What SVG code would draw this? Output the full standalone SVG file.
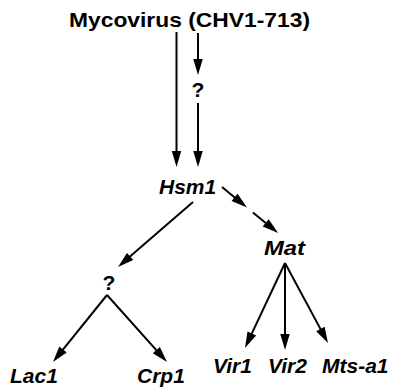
<svg xmlns="http://www.w3.org/2000/svg" width="393" height="389" viewBox="0 0 393 389">
  <style>
    .lbl { font-family: "Liberation Sans", Arial, Helvetica, sans-serif; font-weight: bold; font-size: 21px; fill: #000; }
    .gene { font-style: italic; }
    .edge { stroke: #000; stroke-width: 2; fill: none; marker-end: url(#head); }
  </style>
  <defs>
    <marker id="head" markerUnits="userSpaceOnUse" markerWidth="17" markerHeight="10" refX="4" refY="4.75" orient="auto" overflow="visible">
      <path d="M0,0 L16,4.75 L0,9.5 Z" fill="#000"/>
    </marker>
  </defs>
  <rect width="393" height="389" fill="#fff"/>

  <g id="connectors">
    <!-- virus to Hsm1: direct and via unknown step -->
    <line class="edge" x1="176.5" y1="32" x2="176.5" y2="155"/>
    <line class="edge" x1="198" y1="33" x2="198" y2="63"/>
    <line class="edge" x1="198" y1="103" x2="198" y2="155"/>
    <!-- Hsm1 to Mat, broken line -->
    <line class="edge" x1="222" y1="187" x2="237.7" y2="199.9"/>
    <line class="edge" x1="252.9" y1="212.4" x2="268.8" y2="225.4"/>
    <!-- Hsm1 to unknown -->
    <line class="edge" x1="193" y1="202" x2="127.1" y2="259.1"/>
    <!-- unknown to Lac1 / Crp1 -->
    <line class="edge" x1="107" y1="295" x2="60.5" y2="352.7"/>
    <line class="edge" x1="107" y1="295" x2="159" y2="353.1"/>
    <!-- Mat to targets -->
    <line class="edge" x1="285" y1="263" x2="250.1" y2="337.1"/>
    <line class="edge" x1="285" y1="263" x2="285" y2="338"/>
    <line class="edge" x1="285" y1="263" x2="322.3" y2="332.4"/>
  </g>

  <g id="mycovirus"><text class="lbl" x="69" y="27" textLength="241" lengthAdjust="spacingAndGlyphs">Mycovirus (CHV1-713)</text></g>
  <g id="unknown-top"><text class="lbl" x="198" y="97" text-anchor="middle">?</text></g>
  <g id="hsm1"><text class="lbl gene" x="159" y="194">Hsm1</text></g>
  <g id="mat"><text class="lbl gene" x="264" y="255" textLength="41" lengthAdjust="spacingAndGlyphs">Mat</text></g>
  <g id="unknown-mid"><text class="lbl" x="109" y="290" text-anchor="middle">?</text></g>
  <g id="lac1"><text class="lbl gene" x="10" y="383">Lac1</text></g>
  <g id="crp1"><text class="lbl gene" x="137" y="383">Crp1</text></g>
  <g id="vir1"><text class="lbl gene" x="213" y="373">Vir1</text></g>
  <g id="vir2"><text class="lbl gene" x="268" y="373">Vir2</text></g>
  <g id="mts-a1"><text class="lbl gene" x="322" y="373">Mts-a1</text></g>
</svg>
